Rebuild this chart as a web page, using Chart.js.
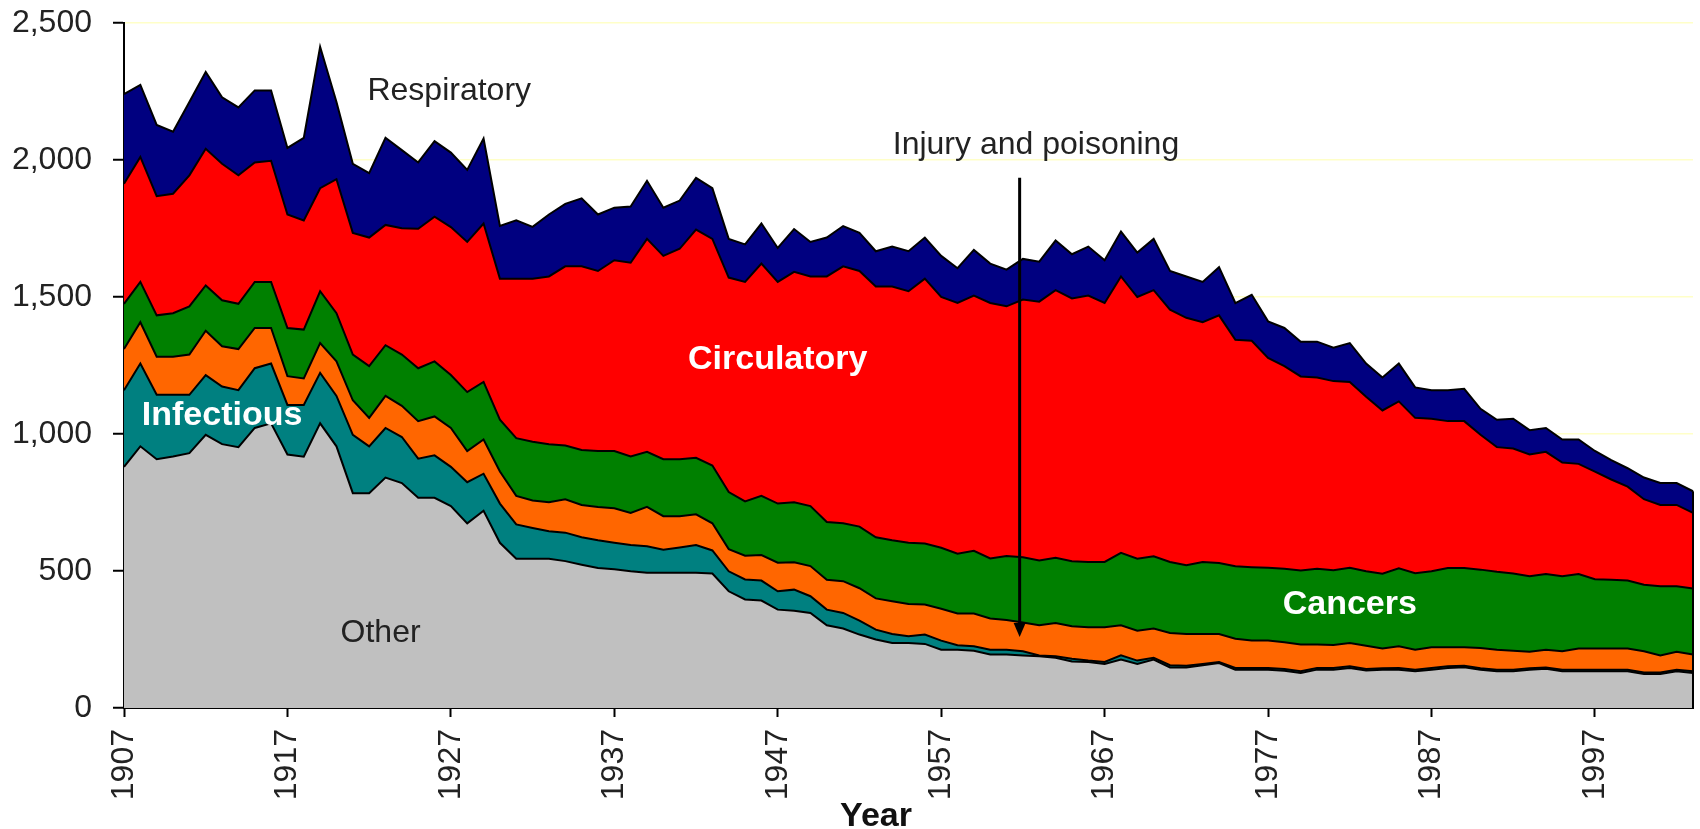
<!DOCTYPE html>
<html>
<head>
<meta charset="utf-8">
<title>Mortes por causa</title>
<script src="https://cdn.jsdelivr.net/npm/chart.js@4.4.1/dist/chart.umd.min.js"></script>
<style>
    body { margin: 0; background: #fff; }
    canvas { display: block; }
</style>
</head>
<body>
<canvas id="myChart" width="1700" height="829"></canvas>
<script>
// anos (eixo x)
var anos = [
    1907, 1908, 1909, 1910, 1911, 1912, 1913, 1914, 1915, 1916,
    1917, 1918, 1919, 1920, 1921, 1922, 1923, 1924, 1925, 1926,
    1927, 1928, 1929, 1930, 1931, 1932, 1933, 1934, 1935, 1936,
    1937, 1938, 1939, 1940, 1941, 1942, 1943, 1944, 1945, 1946,
    1947, 1948, 1949, 1950, 1951, 1952, 1953, 1954, 1955, 1956,
    1957, 1958, 1959, 1960, 1961, 1962, 1963, 1964, 1965, 1966,
    1967, 1968, 1969, 1970, 1971, 1972, 1973, 1974, 1975, 1976,
    1977, 1978, 1979, 1980, 1981, 1982, 1983, 1984, 1985, 1986,
    1987, 1988, 1989, 1990, 1991, 1992, 1993, 1994, 1995, 1996,
    1997, 1998, 1999, 2000, 2001, 2002, 2003
];

var other = [
    880, 955, 908, 918, 930, 997, 963, 952, 1022, 1039,
    925, 917, 1039, 955, 784, 784, 841, 821, 767, 767,
    737, 674, 720, 603, 545, 545, 545, 536, 523, 511,
    506, 499, 494, 494, 494, 494, 491, 426, 396, 392,
    359, 355, 347, 302, 290, 268, 250, 237, 237, 234,
    213, 213, 209, 195, 195, 192, 189, 183, 170, 168,
    161, 177, 161, 177, 148, 148, 156, 164, 140, 140,
    140, 136, 128, 140, 140, 146, 137, 140, 140, 134,
    140, 146, 149, 140, 134, 134, 140, 143, 134, 134,
    134, 134, 134, 124, 124, 134, 128
];

var infectious = [
    280, 302, 235, 225, 213, 218, 210, 208, 218, 218,
    181, 189, 184, 184, 213, 171, 181, 168, 143, 155,
    143, 150, 135, 143, 125, 112, 100, 104, 100, 101,
    97, 96, 96, 84, 92, 101, 84, 73, 73, 73,
    67, 77, 61, 57, 57, 51, 36, 33, 25, 34,
    33, 16, 16, 18, 18, 15, 3, 6, 10, 5,
    7, 15, 12, 6, 8, 6, 5, 4, 6, 6,
    6, 6, 6, 6, 6, 6, 5, 5, 6, 6,
    6, 6, 5, 5, 6, 6, 5, 5, 6, 6,
    6, 6, 6, 6, 6, 6, 6
];

var injury = [
    150, 151, 139, 139, 147, 162, 147, 150, 147, 130,
    105, 97, 109, 126, 126, 104, 117, 114, 137, 142,
    142, 114, 125, 117, 104, 100, 106, 122, 118, 122,
    126, 117, 144, 122, 114, 112, 99, 81, 87, 93,
    104, 100, 110, 109, 116, 118, 114, 120, 118, 110,
    116, 116, 120, 114, 108, 105, 110, 121, 118, 122,
    127, 110, 109, 107, 118, 116, 109, 102, 107, 100,
    100, 98, 98, 86, 84, 85, 85, 72, 79, 73,
    76, 70, 68, 74, 73, 69, 60, 65, 67, 77,
    77, 77, 77, 77, 62, 65, 61
];

var cancers = [
    165, 147, 151, 159, 176, 165, 168, 165, 168, 168,
    176, 178, 189, 176, 167, 189, 185, 187, 193, 201,
    193, 215, 210, 189, 211, 215, 212, 196, 201, 204,
    209, 206, 201, 208, 208, 206, 211, 208, 198, 216,
    216, 219, 219, 211, 211, 225, 223, 222, 223, 222,
    223, 218, 229, 219, 234, 238, 236, 238, 238, 238,
    238, 264, 263, 264, 259, 251, 263, 259, 264, 268,
    266, 268, 270, 276, 273, 275, 272, 273, 285, 279,
    277, 289, 289, 286, 284, 282, 276, 276, 274, 272,
    253, 251, 248, 243, 252, 239, 241
];

var circulatory = [
    438, 456, 435, 436, 478, 499, 498, 469, 436, 442,
    414, 398, 376, 489, 444, 469, 439, 461, 509, 528,
    540, 548, 578, 515, 582, 595, 612, 654, 670, 657,
    696, 707, 777, 742, 768, 833, 827, 783, 801, 848,
    809, 841, 838, 896, 938, 933, 915, 926, 918, 967,
    915, 915, 931, 932, 911, 941, 945, 977, 959, 972,
    945, 1009, 955, 971, 921, 903, 875, 904, 827, 826,
    766, 740, 708, 698, 690, 678, 637, 596, 609, 567,
    557, 536, 536, 492, 455, 456, 444, 446, 415, 402,
    393, 366, 343, 312, 297, 297, 276
];

var respiratory = [
    327, 263, 260, 226, 268, 280, 243, 248, 263, 257,
    243, 302, 516, 282, 252, 235, 318, 285, 242, 276,
    272, 263, 310, 192, 213, 189, 226, 228, 248, 206,
    192, 205, 212, 176, 176, 189, 185, 141, 137, 146,
    124, 156, 126, 142, 147, 139, 129, 146, 146, 150,
    150, 127, 167, 144, 134, 148, 146, 181, 161, 179,
    156, 164, 162, 187, 141, 151, 147, 176, 134, 168,
    133, 139, 127, 131, 122, 142, 121, 120, 138, 111,
    104, 113, 118, 95, 100, 109, 89, 87, 84, 89,
    75, 71, 67, 79, 80, 80, 79
];

var yTicks = [0, 500, 1000, 1500, 2000, 2500];

var fonte = "'Liberation Sans', Arial, sans-serif";

// textos soltos no grafico (ano, valor)
var rotulos = [
    { texto: 'Respiratory', ano: 1926.9, valor: 2250, cor: '#222', bold: false },
    { texto: 'Injury and poisoning', ano: 1962.8, valor: 2055, cor: '#222', bold: false },
    { texto: 'Circulatory', ano: 1947.0, valor: 1270, cor: '#fff', bold: true },
    { texto: 'Infectious', ano: 1913.0, valor: 1066, cor: '#fff', bold: true },
    { texto: 'Other', ano: 1922.7, valor: 274, cor: '#222', bold: false },
    { texto: 'Cancers', ano: 1982.0, valor: 376, cor: '#fff', bold: true }
];

function serie(label, dados, cor, fill) {
    return {
        label: label,
        data: dados,
        backgroundColor: cor,
        borderColor: '#000',
        borderWidth: 2,
        pointRadius: 0,
        tension: 0,
        fill: fill
    };
}

const anotacoes = {
    id: 'anotacoes',
    afterDatasetsDraw(chart) {
        const ctx = chart.ctx;
        const sx = chart.scales.x;
        const sy = chart.scales.y;
        function px(ano) { return sx.getPixelForValue(ano - anos[0]); }

        ctx.save();
        // borda direita da area
        var ult = anos.length - 1;
        var total = other[ult] + infectious[ult] + injury[ult] + cancers[ult] + circulatory[ult] + respiratory[ult];
        ctx.strokeStyle = '#000';
        ctx.lineWidth = 2;
        ctx.beginPath();
        ctx.moveTo(px(anos[ult]), sy.getPixelForValue(0));
        ctx.lineTo(px(anos[ult]), sy.getPixelForValue(total));
        ctx.stroke();

        ctx.textAlign = 'center';
        ctx.textBaseline = 'middle';
        for (var i = 0; i < rotulos.length; i++) {
            var r = rotulos[i];
            ctx.font = r.bold ? 'bold 34px ' + fonte : '32px ' + fonte;
            ctx.fillStyle = r.cor;
            ctx.fillText(r.texto, px(r.ano), sy.getPixelForValue(r.valor));
        }

        // seta do injury
        var xa = px(1961.8);
        var y1 = sy.getPixelForValue(1935);
        var y2 = sy.getPixelForValue(259);
        ctx.lineWidth = 3;
        ctx.beginPath();
        ctx.moveTo(xa, y1);
        ctx.lineTo(xa, y2 - 12);
        ctx.stroke();
        ctx.fillStyle = '#000';
        ctx.beginPath();
        ctx.moveTo(xa - 6, y2 - 14);
        ctx.lineTo(xa + 6, y2 - 14);
        ctx.lineTo(xa, y2);
        ctx.closePath();
        ctx.fill();

        // titulo do eixo x
        ctx.font = 'bold 34px ' + fonte;
        ctx.fillStyle = '#111';
        ctx.textBaseline = 'alphabetic';
        ctx.fillText('Year', 876, 826);
        ctx.restore();
    }
};

const config = {
    type: 'line',
    data: {
        labels: anos,
        datasets: [
            serie('Other', other, '#C0C0C0', 'origin'),
            serie('Infectious', infectious, '#008080', '-1'),
            serie('Injury and poisoning', injury, '#FF6600', '-1'),
            serie('Cancers', cancers, '#008000', '-1'),
            serie('Circulatory', circulatory, '#FF0000', '-1'),
            serie('Respiratory', respiratory, '#000080', '-1')
        ]
    },
    options: {
        responsive: false,
        animation: false,
        devicePixelRatio: 1,
        layout: {
            padding: { top: 23, right: 7, left: 0, bottom: 0 }
        },
        plugins: {
            legend: { display: false },
            tooltip: { enabled: false }
        },
        scales: {
            x: {
                offset: false,
                grid: {
                    drawOnChartArea: false,
                    tickLength: 9,
                    tickColor: '#000',
                    tickWidth: 2
                },
                border: { display: true, color: '#000', width: 2 },
                ticks: {
                    autoSkip: false,
                    minRotation: 90,
                    maxRotation: 90,
                    padding: 12,
                    color: '#222',
                    font: { family: fonte, size: 32 },
                    callback: function (valor, indice) {
                        return (anos[indice] - anos[0]) % 10 == 0 ? String(anos[indice]) : null;
                    }
                },
                afterFit: function (escala) {
                    escala.height = 121;
                    escala.paddingLeft = 0;
                    escala.paddingRight = 0;
                }
            },
            y: {
                stacked: true,
                min: 0,
                max: 2500,
                grid: {
                    color: 'rgb(255, 255, 200)',
                    lineWidth: 1.5,
                    tickLength: 11,
                    tickColor: '#000',
                    tickWidth: 2
                },
                border: { display: true, color: '#000', width: 2 },
                afterBuildTicks: function (escala) {
                    escala.ticks = yTicks.map(function (v) { return { value: v }; });
                },
                ticks: {
                    padding: 21,
                    color: '#222',
                    font: { family: fonte, size: 32 },
                    callback: function (valor) { return valor.toLocaleString('en-US'); }
                },
                afterFit: function (escala) {
                    escala.width = 124;
                    escala.paddingTop = 0;
                    escala.paddingBottom = 0;
                }
            }
        }
    },
    plugins: [anotacoes]
};

const myChart = new Chart(document.getElementById('myChart'), config);
</script>
</body>
</html>
